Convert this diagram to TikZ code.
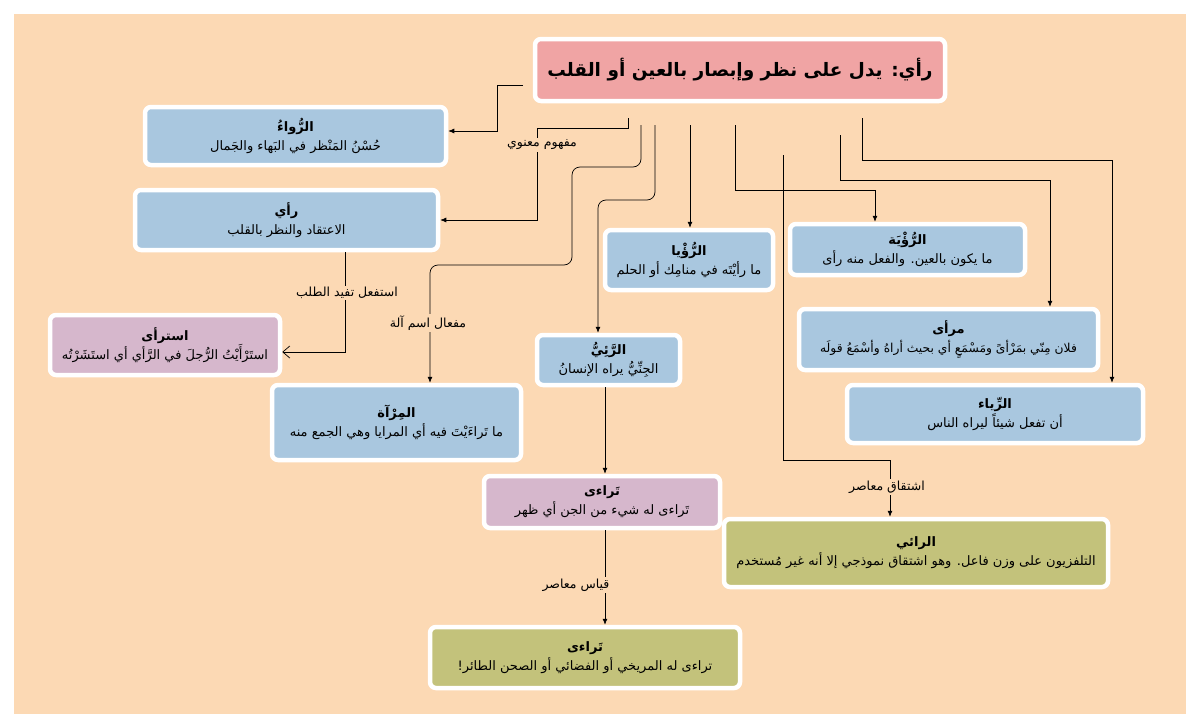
\documentclass[tikz,border=0pt]{standalone}
\usepackage{fontspec}
\usetikzlibrary{arrows.meta,calc}
\TeXXeTstate=1
\newfontfamily\arabicfont[Script=Arabic]{DejaVu Sans}
\newcommand\AR[1]{\beginR#1\endR}
\definecolor{bgpeach}{RGB}{252,217,180}
\definecolor{titlepink}{RGB}{240,164,164}
\definecolor{boxblue}{RGB}{169,199,223}
\definecolor{boxmauve}{RGB}{214,183,204}
\definecolor{boxolive}{RGB}{195,194,123}
\begin{document}
\begin{tikzpicture}[x=1pt,y=-1pt,
  box/.style={draw=white, line width=4.5pt, rounded corners=6pt, align=center,
    font=\arabicfont\fontsize{13}{19}\selectfont, inner sep=2pt},
  bluebox/.style={box, fill=boxblue},
  mauvebox/.style={box, fill=boxmauve},
  olivebox/.style={box, fill=boxolive},
  conn/.style={draw=black, line width=0.7pt, -{Latex[length=6pt,width=5pt]}},
  lbl/.style={font=\arabicfont\fontsize{12.5}{14}\selectfont, fill=bgpeach, inner sep=1.5pt}
]
\useasboundingbox (0,0) rectangle (1200,728);
\fill[white] (0,0) rectangle (1200,728);
\fill[bgpeach] (14,14) rectangle (1186,714);

% nodes
\node[box, fill=titlepink, minimum width=410pt, minimum height=62pt,
  font=\arabicfont\fontsize{18.5}{22}\selectfont\bfseries] (title) at (740,70)
  {\AR{رأي: يدل على نظر وإبصار بالعين أو القلب}};

\node[bluebox, minimum width=301pt, minimum height=58pt] (rawa) at (295.5,136)
  {\AR{{\bfseries الرُّواءُ}}\\\AR{حُسْنُ المَنْظر في البَهاء والجَمال}};
\node[bluebox, minimum width=303pt, minimum height=60pt] (ray) at (286.5,220)
  {\AR{{\bfseries رأي}}\\\AR{الاعتقاد والنظر بالقلب}};
\node[mauvebox, minimum width=230pt, minimum height=60pt] (istara) at (165,345)
  {\AR{{\bfseries استرأى}}\\\AR{استَرْأَيْتُ الرُّجلَ في الرَّأي أي استَشَرْتُه}};
\node[bluebox, minimum width=249pt, minimum height=75pt] (mirah) at (396.5,422.5)
  {\AR{{\bfseries المِرْآة}}\\\AR{ما تَراءَيْتَ فيه أي المرايا وهي الجمع منه}};
\node[bluebox, minimum width=143pt, minimum height=50pt] (rai) at (608.5,360)
  {\AR{{\bfseries الرَّئِيُّ}}\\\AR{الجِنِّيُّ يراه الإنسانُ}};
\node[bluebox, minimum width=168pt, minimum height=60pt] (ruya) at (689,260)
  {\AR{{\bfseries الرُّؤْيا}}\\\AR{ما رأيْتَه في منامِك أو الحلم}};
\node[bluebox, minimum width=235pt, minimum height=51pt] (ruyah) at (907.5,249.5)
  {\AR{{\bfseries الرُّؤْيَة}}\\\AR{ما يكون بالعين. والفعل منه رأى}};
\node[bluebox, minimum width=299pt, minimum height=61pt,
  font=\arabicfont\fontsize{12.3}{19}\selectfont] (mara) at (948.5,339.5)
  {\AR{{\bfseries\fontsize{13}{19}\selectfont مرأى}}\\\AR{فلان مِنّي بمَرْأىً ومَسْمَعٍ أي بحيث أراهُ وأسْمَعُ قولَه}};
\node[bluebox, minimum width=296pt, minimum height=58pt] (riya) at (995,414)
  {\AR{{\bfseries الرِّياء}}\\\AR{أن تفعل شيئاً ليراه الناس}};
\node[mauvebox, minimum width=236pt, minimum height=52pt] (taraa) at (602,502)
  {\AR{{\bfseries تَراءى}}\\\AR{تَراءى له شيء من الجن أي ظهر}};
\node[olivebox, minimum width=384pt, minimum height=68pt] (raai) at (916,553)
  {\AR{{\bfseries الرائي}}\\\AR{التلفزيون على وزن فاعل. وهو اشتقاق نموذجي إلا أنه غير مُستخدم}};
\node[olivebox, minimum width=310pt, minimum height=61pt] (taraab) at (585,657.5)
  {\AR{{\bfseries تَراءى}}\\\AR{تراءى له المريخي أو الفضائي أو الصحن الطائر!}};

% connector start points and bends
\coordinate (s1) at (523,85);
\coordinate (s2) at (628,118);
\coordinate (s3) at (641,125);
\coordinate (s4) at (655,125);
\coordinate (s5) at (690,125);
\coordinate (s6) at (735,125);
\coordinate (s7) at (783,155);
\coordinate (s8) at (840,135);
\coordinate (s9) at (862,118);
\coordinate (k2) at (537,128);
\coordinate (k3) at (430,265);
\coordinate (k4) at (598,200);
\coordinate (k6) at (875,190);
\coordinate (k7) at (890,460);
\coordinate (k8) at (1050,180);
\coordinate (k9) at (1112,160);
\coordinate (k10) at (345,352);
\coordinate (k11) at (605,0);

% connectors
\draw[conn] (s1) -- (497,85) |- ([yshift=5pt]rawa.east);
\draw[conn] (s2) -- (628,128) -- (k2) |- (ray.east);
\draw[conn, rounded corners=8pt] (s3) |- (572,167) |- (k3) -- (k3 |- mirah.north);
\draw[conn, rounded corners=8pt] (s4) |- (k4) -- (k4 |- rai.north);
\draw[conn] (s5) -- (s5 |- ruya.north);
\draw[conn] (s6) |- (k6) -- (k6 |- ruyah.north);
\draw[conn] (s7) |- (k7) -- (k7 |- raai.north);
\draw[conn] (s8) |- (k8) -- (k8 |- mara.north);
\draw[conn] (s9) |- (k9) -- (k9 |- riya.north);
\draw[draw=black, line width=0.7pt, -{Straight Barb[length=7pt,width=12pt]}]
  (k10 |- ray.south) -- (k10) -- (k10 -| istara.east);
\draw[conn] (k11 |- rai.south) -- (k11 |- taraa.north);
\draw[conn] (k11 |- taraa.south) -- (k11 |- taraab.north);

% labels
\node[lbl] (l1) at (542,145) {\AR{مفهوم معنوي}};
\node[lbl] (l2) at (428,323) {\AR{مفعال اسم آلة}};
\node[lbl] (l3) at (347,293) {\AR{استفعل تفيد الطلب}};
\node[lbl] (l4) at (887,487) {\AR{اشتقاق معاصر}};
\node[lbl] (l5) at (576,585) {\AR{قياس معاصر}};
\end{tikzpicture}
\end{document}
